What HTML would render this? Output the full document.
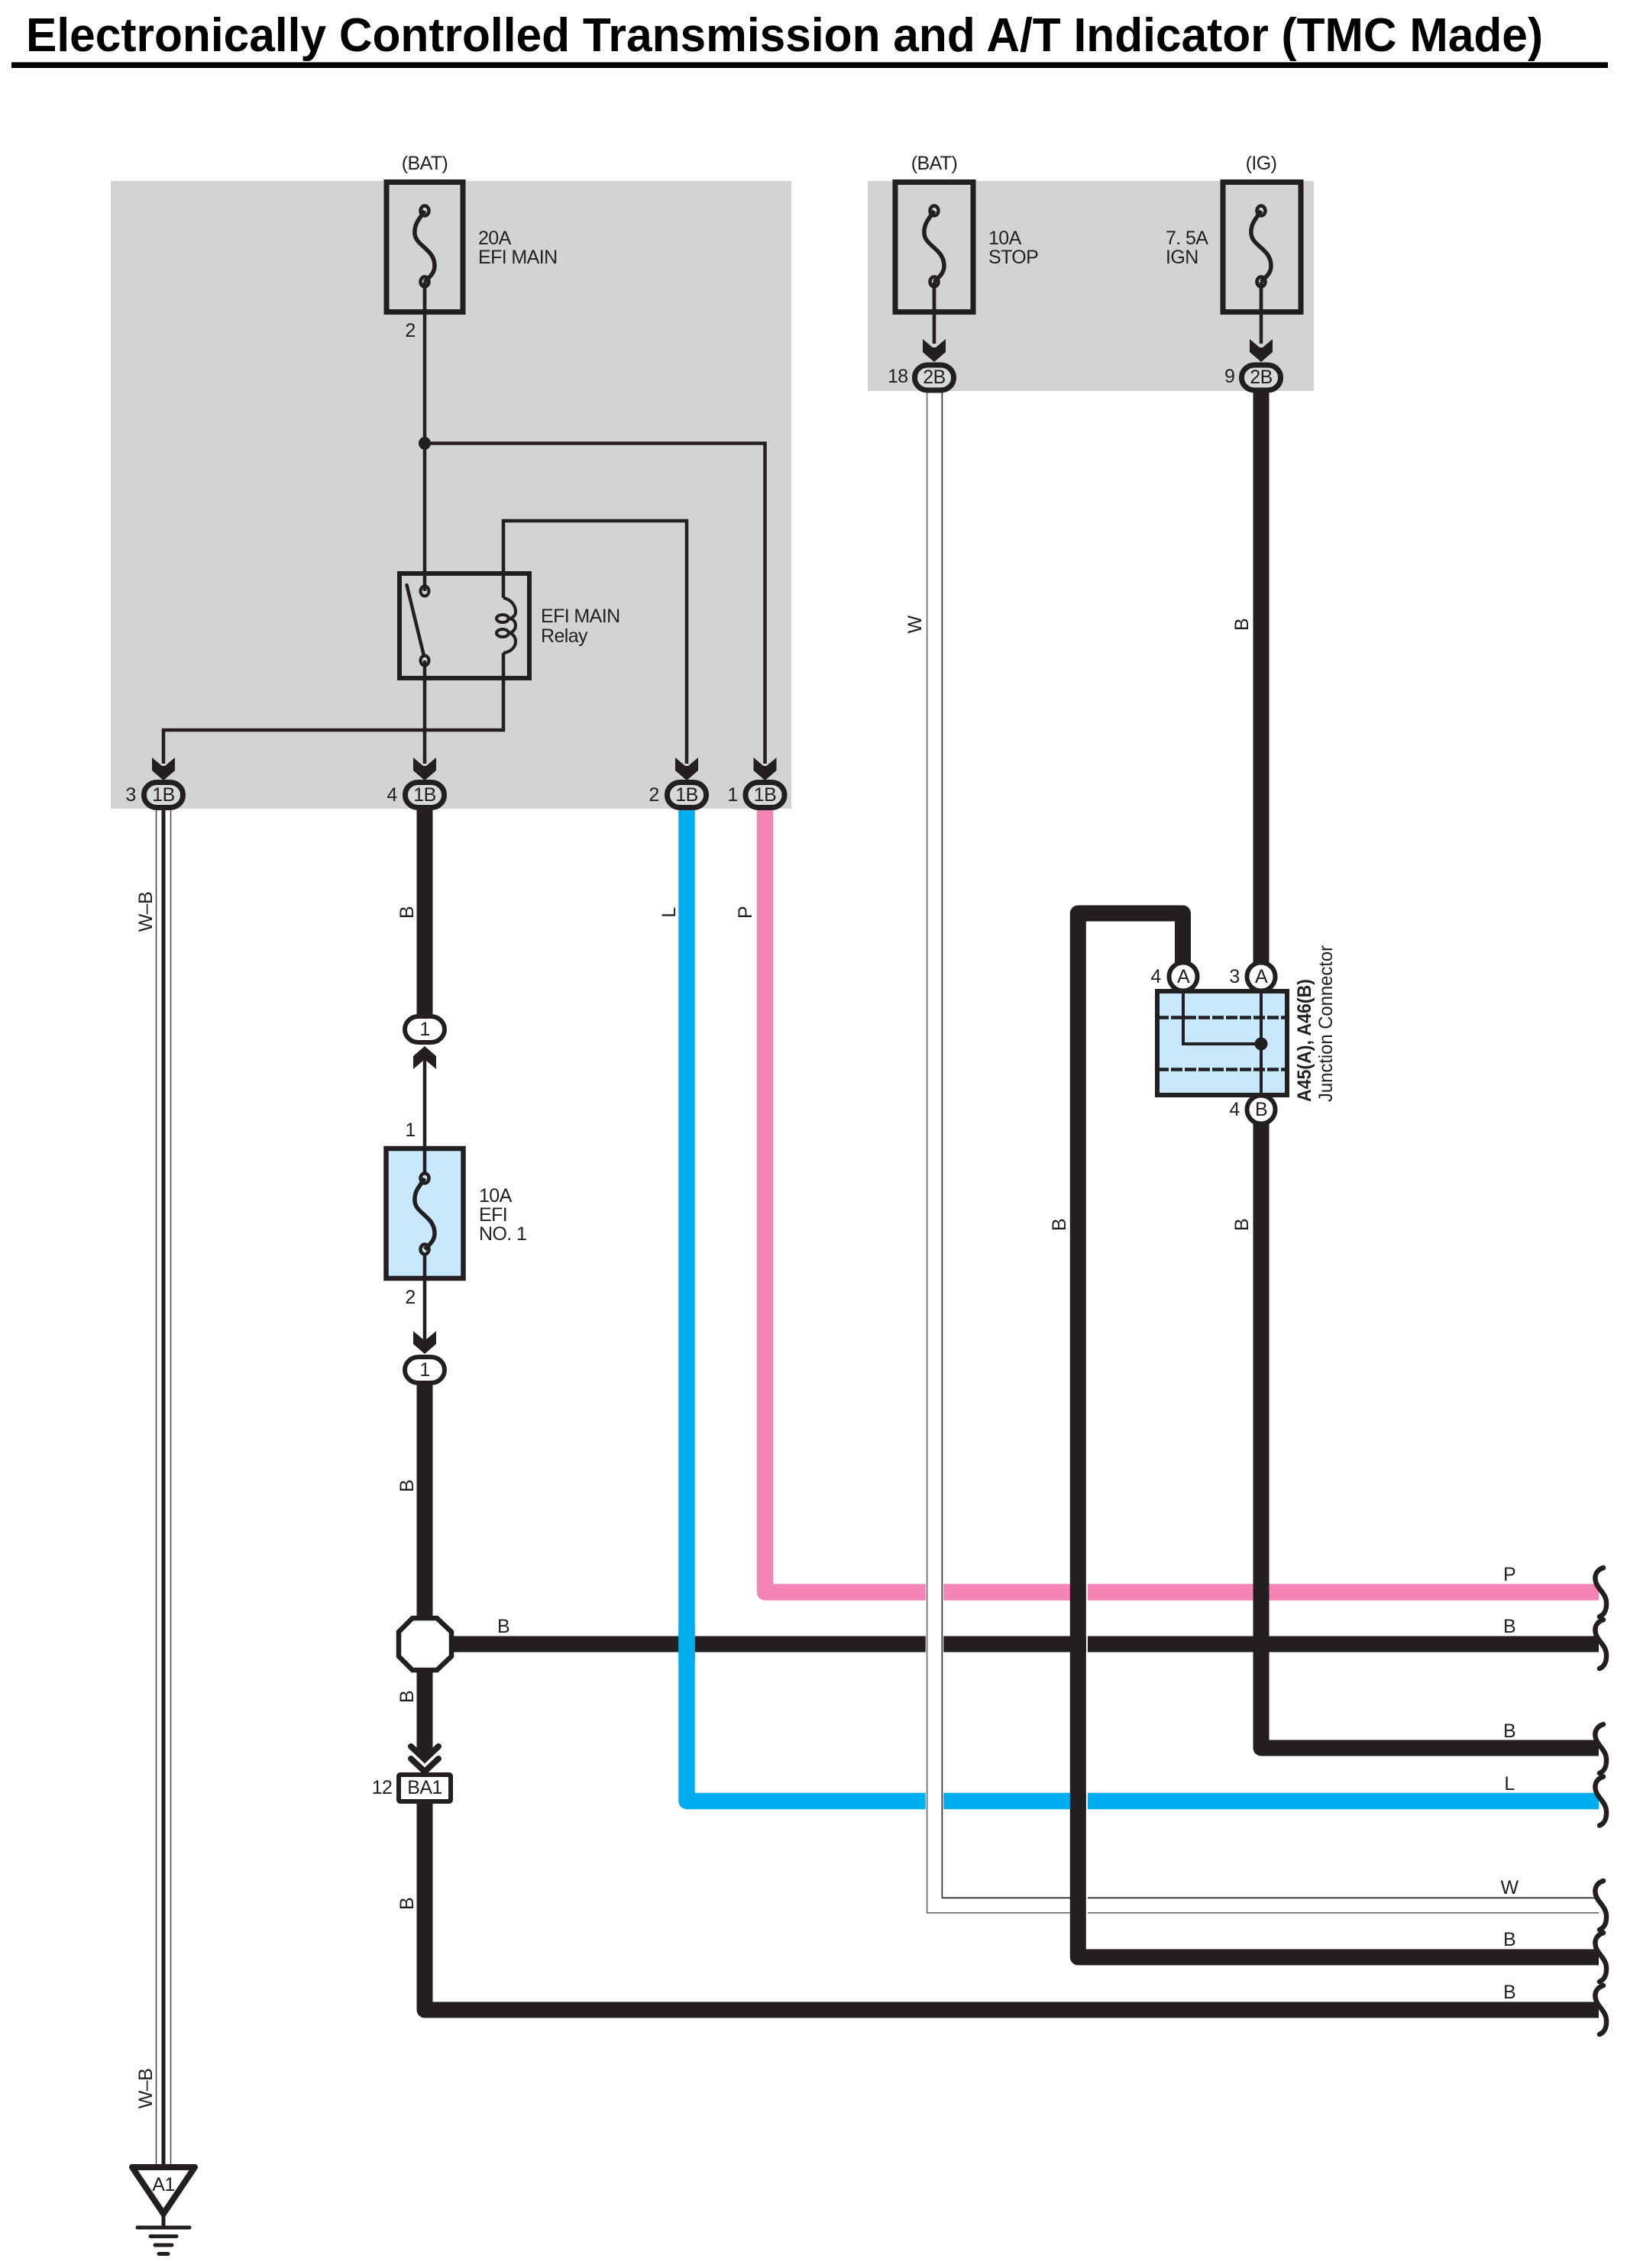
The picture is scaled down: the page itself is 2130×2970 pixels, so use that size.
<!DOCTYPE html>
<html>
<head>
<meta charset="utf-8">
<style>
html,body{margin:0;padding:0;background:#fff;}
svg{display:block;}
text{font-family:"Liberation Sans",sans-serif;font-size:25px;letter-spacing:-0.6px;fill:#231f20;}
.m{text-anchor:middle;}
</style>
</head>
<body>
<svg xmlns="http://www.w3.org/2000/svg" width="2130" height="2970" viewBox="0 0 2130 2970">
<defs>
  <polygon id="arr" points="-15,-30 -2,-19 2,-19 15,-30 15,-13 0,0 -15,-13" fill="#231f20"/>
  <g id="fuse" fill="none" stroke="#231f20">
    <path d="M0,0 C-6,10 -14,16 -13,30 C-12,46 13,50 13,72 C13,82 6,87 0,93" stroke-width="5.5"/>
    <ellipse cx="0" cy="0" rx="5.5" ry="6.5" stroke-width="4.5"/>
    <ellipse cx="0" cy="93" rx="5.5" ry="6.5" stroke-width="4.5"/>
  </g>
  <path id="wave" d="M2099,-32 C2090,-29 2087,-22 2089,-14 C2091,-4 2104,2 2103,16 C2103,25 2099,30 2094,32" fill="none" stroke="#231f20" stroke-width="6.5" stroke-linecap="round"/>
</defs>

<rect width="2130" height="2970" fill="#fff"/>

<!-- Title -->
<text x="34" y="67" textLength="1986" lengthAdjust="spacingAndGlyphs" style="font-size:62px;font-weight:bold;letter-spacing:0;fill:#000">Electronically Controlled Transmission and A/T Indicator (TMC Made)</text>
<rect x="15" y="81.5" width="2090" height="7.5" fill="#000"/>

<!-- Gray zones -->
<rect x="145" y="237" width="891" height="822" fill="#d1d3d4"/>
<rect x="1136" y="237" width="584" height="275" fill="#d1d3d4"/>

<!-- Thick harness wires -->
<g fill="none" stroke-linejoin="round">
  <path d="M556,1060V1330" stroke="#231f20" stroke-width="21"/>
  <path d="M556,1812V2116" stroke="#231f20" stroke-width="21"/>
  <path d="M556,2190V2300" stroke="#231f20" stroke-width="21"/>
  <path d="M556,2360V2632H2093" stroke="#231f20" stroke-width="21"/>
  <path d="M594,2153H2093" stroke="#231f20" stroke-width="21"/>
  <path d="M1001.5,1060V2085H2093" stroke="#f384b5" stroke-width="21.5"/>
  <path d="M899,1060V2358.5H2093" stroke="#00aeef" stroke-width="21.5"/>
  <!-- W wire -->
  <path d="M1223.5,512V2495H2093" stroke="#fff" stroke-width="23.5" stroke-linejoin="miter"/>
  <path d="M1223.5,512V2495H2093" stroke="#707070" stroke-width="21.5" stroke-linejoin="miter"/>
  <path d="M1223.5,512V2495H2093" stroke="#fff" stroke-width="18" stroke-linejoin="miter"/>
  <path d="M1233.3,512V2485.5H2093" stroke="#333" stroke-width="1.5" stroke-linejoin="miter"/>
  <!-- Black crossing with white halo -->
  <path d="M1423,2060V2380" stroke="#fff" stroke-width="2"/>
  <path d="M1423,2480V2510" stroke="#fff" stroke-width="2"/>
  <path d="M1548.5,1270V1196H1411.3V2563H2093" stroke="#231f20" stroke-width="21"/>
  <path d="M1651,505V1270" stroke="#231f20" stroke-width="21"/>
  <path d="M1651,1460V2289H2093" stroke="#231f20" stroke-width="21"/>
</g>
<!-- Blue over black crossing -->
<path d="M899,2130V2175" stroke="#00aeef" stroke-width="21.5"/>

<!-- W-B wire -->
<rect x="204" y="1060" width="20" height="1775" fill="#fff"/>
<path d="M204.5,1060V2835M223.5,1060V2835" stroke="#444" stroke-width="1.5"/>
<path d="M214,1060V2835" stroke="#231f20" stroke-width="5"/>

<!-- Wire ends -->
<use href="#wave" y="2085"/>
<use href="#wave" y="2153"/>
<use href="#wave" y="2290"/>
<use href="#wave" y="2358.5"/>
<use href="#wave" y="2495"/>
<use href="#wave" y="2563"/>
<use href="#wave" y="2632"/>

<!-- Thin internal wires -->
<g fill="none" stroke="#231f20" stroke-width="4.5">
  <path d="M556,369V774"/>
  <path d="M556,580.5H1001.5V1000"/>
  <path d="M899,1000V682H659V783"/>
  <path d="M659,855V956H214V1000"/>
  <path d="M556,865V1000"/>
  <path d="M1223,369V450"/>
  <path d="M1651,369V450"/>
  <path d="M556,1375V1501"/>
  <path d="M556,1677V1770"/>
</g>
<ellipse cx="556" cy="580.5" rx="8" ry="8.5" fill="#231f20"/>

<!-- Fuses top -->
<rect x="506" y="238.5" width="100" height="170" fill="none" stroke="#231f20" stroke-width="7"/>
<rect x="1172" y="238.5" width="102" height="170" fill="none" stroke="#231f20" stroke-width="7"/>
<rect x="1601" y="238.5" width="102" height="170" fill="none" stroke="#231f20" stroke-width="7"/>
<use href="#fuse" x="556" y="276"/>
<use href="#fuse" x="1223" y="276"/>
<use href="#fuse" x="1651" y="276"/>
<path d="M556,375V412M1223,375V412M1651,375V412" stroke="#231f20" stroke-width="4.5"/>

<!-- Relay -->
<rect x="523" y="751" width="170" height="137" fill="none" stroke="#231f20" stroke-width="6"/>
<g fill="none" stroke="#231f20" stroke-width="4">
  <ellipse cx="556" cy="774" rx="5.5" ry="6.5"/>
  <ellipse cx="556" cy="865" rx="5.5" ry="6.5"/>
  <path d="M532.5,766L555,859" stroke-width="4.5" stroke-linecap="round"/>
  <path d="M659,783C670,785 675,794 675,801C675,806 672,808 668,810C672,811 675,814 675,819C675,824 672,827 668,829C672,831 675,834 675,840C675,848 668,854 659,855"/>
  <ellipse cx="658" cy="810" rx="8" ry="5"/>
  <ellipse cx="658" cy="829" rx="8" ry="5"/>
</g>

<!-- 1B arrows + connectors -->
<use href="#arr" x="214" y="1022"/>
<use href="#arr" x="556" y="1022"/>
<use href="#arr" x="899" y="1022"/>
<use href="#arr" x="1001.5" y="1022"/>
<g fill="#d8d9db" stroke="#231f20" stroke-width="7">
  <rect x="188.5" y="1024.5" width="51" height="33" rx="17" ry="16"/>
  <rect x="530.5" y="1024.5" width="51" height="33" rx="17" ry="16"/>
  <rect x="873.5" y="1024.5" width="51" height="33" rx="17" ry="16"/>
  <rect x="976" y="1024.5" width="51" height="33" rx="17" ry="16"/>
</g>
<!-- 2B -->
<use href="#arr" x="1223" y="474"/>
<use href="#arr" x="1651" y="474"/>
<g fill="#d8d9db" stroke="#231f20" stroke-width="7">
  <rect x="1197.5" y="478" width="51" height="33" rx="17" ry="16"/>
  <rect x="1625.5" y="478" width="51" height="33" rx="17" ry="16"/>
</g>

<!-- EFI NO.1 fuse -->
<rect x="505.5" y="1504" width="101" height="170" fill="#c7e9fb" stroke="#231f20" stroke-width="6.5"/>
<use href="#fuse" x="556" y="1543"/>
<path d="M556,1504V1537M556,1642V1677" stroke="#231f20" stroke-width="4.5"/>
<g fill="#fff" stroke="#231f20" stroke-width="6">
  <rect x="530" y="1331" width="52" height="34" rx="18" ry="17"/>
  <rect x="530" y="1777" width="52" height="34" rx="18" ry="17"/>
</g>
<use href="#arr" transform="translate(556,1370) rotate(180)"/>
<use href="#arr" x="556" y="1773"/>

<!-- Octagon -->
<polygon points="540,2119 572,2119 591,2137 591,2169 572,2187 540,2187 522,2169 522,2137" fill="#fff" stroke="#231f20" stroke-width="6.5"/>

<!-- BA1 -->
<path d="M538,2287L556,2304L574,2287" fill="none" stroke="#231f20" stroke-width="8" stroke-linecap="round"/>
<path d="M538,2303L556,2320L574,2303" fill="none" stroke="#231f20" stroke-width="8" stroke-linecap="round"/>
<rect x="522" y="2324" width="68" height="35" rx="2" fill="#fff" stroke="#231f20" stroke-width="6"/>

<!-- Junction connector -->
<rect x="1515" y="1298" width="170" height="136" fill="#c7e9fb" stroke="#231f20" stroke-width="6"/>
<path d="M1515,1332.5H1685M1515,1400.5H1685" stroke="#231f20" stroke-width="4.5" stroke-dasharray="15 3"/>
<path d="M1549,1295V1367H1651M1651,1295V1437" fill="none" stroke="#231f20" stroke-width="4"/>
<circle cx="1651" cy="1367" r="8.5" fill="#231f20"/>
<circle cx="1549" cy="1279" r="18.5" fill="#fff" stroke="#231f20" stroke-width="6"/>
<circle cx="1651" cy="1279" r="18.5" fill="#fff" stroke="#231f20" stroke-width="6"/>
<circle cx="1651" cy="1453" r="18.5" fill="#fff" stroke="#231f20" stroke-width="6"/>

<!-- Ground -->
<polygon points="173,2838 255,2838 214,2899" fill="#fff" stroke="#231f20" stroke-width="8" stroke-linejoin="round"/>
<g stroke="#231f20" stroke-linecap="round" fill="none">
  <path d="M214,2900V2917" stroke-width="5"/>
  <path d="M180,2917H248" stroke-width="5"/>
  <path d="M197,2928.5H231" stroke-width="5"/>
  <path d="M203,2940H225" stroke-width="5"/>
  <path d="M208,2951.5H220" stroke-width="5"/>
</g>

<!-- Text labels -->
<text class="m" x="556" y="222">(BAT)</text>
<text class="m" x="1223" y="222">(BAT)</text>
<text class="m" x="1651" y="222">(IG)</text>
<text x="626" y="320">20A</text>
<text x="626" y="345">EFI MAIN</text>
<text x="1294" y="320">10A</text>
<text x="1294" y="345">STOP</text>
<text x="1526" y="320">7. 5A</text>
<text x="1526" y="345">IGN</text>
<text class="m" x="537" y="441">2</text>
<text x="708" y="815">EFI MAIN</text>
<text x="708" y="841">Relay</text>

<text class="m" x="171" y="1049">3</text>
<text class="m" x="513" y="1049">4</text>
<text class="m" x="856" y="1049">2</text>
<text class="m" x="959" y="1049">1</text>
<text class="m" x="214" y="1049">1B</text>
<text class="m" x="556" y="1049">1B</text>
<text class="m" x="899" y="1049">1B</text>
<text class="m" x="1001.5" y="1049">1B</text>

<text x="1162" y="501">18</text>
<text x="1603" y="501">9</text>
<text class="m" x="1223" y="502">2B</text>
<text class="m" x="1651" y="502">2B</text>

<text class="m" x="556" y="1356">1</text>
<text class="m" x="556" y="1802">1</text>
<text class="m" x="537" y="1488">1</text>
<text class="m" x="537" y="1707">2</text>
<text x="627" y="1574">10A</text>
<text x="627" y="1599">EFI</text>
<text x="627" y="1624">NO. 1</text>

<text class="m" x="556" y="2349">BA1</text>
<text class="m" x="500" y="2349">12</text>
<text class="m" x="659" y="2138">B</text>

<text class="m" x="1513" y="1287">4</text>
<text class="m" x="1616" y="1287">3</text>
<text class="m" x="1616" y="1461">4</text>
<text class="m" x="1549" y="1287">A</text>
<text class="m" x="1651" y="1287">A</text>
<text class="m" x="1651" y="1461">B</text>
<text class="m" x="214" y="2869">A1</text>

<text class="m" x="1976" y="2070">P</text>
<text class="m" x="1976" y="2138">B</text>
<text class="m" x="1976" y="2275">B</text>
<text class="m" x="1976" y="2344">L</text>
<text class="m" x="1976" y="2480">W</text>
<text class="m" x="1976" y="2548">B</text>
<text class="m" x="1976" y="2617">B</text>

<!-- Rotated wire labels -->
<text class="m" transform="translate(199,1194) rotate(-90)">W–B</text>
<text class="m" transform="translate(199,2735) rotate(-90)">W–B</text>
<text class="m" transform="translate(541,1195) rotate(-90)">B</text>
<text class="m" transform="translate(541,1946) rotate(-90)">B</text>
<text class="m" transform="translate(541,2222) rotate(-90)">B</text>
<text class="m" transform="translate(541,2493) rotate(-90)">B</text>
<text class="m" transform="translate(884,1195) rotate(-90)">L</text>
<text class="m" transform="translate(984,1195) rotate(-90)">P</text>
<text class="m" transform="translate(1206,818) rotate(-90)">W</text>
<text class="m" transform="translate(1634,818) rotate(-90)">B</text>
<text class="m" transform="translate(1395,1604) rotate(-90)">B</text>
<text class="m" transform="translate(1634,1604) rotate(-90)">B</text>

<text transform="translate(1716,1443) rotate(-90)" textLength="161" lengthAdjust="spacingAndGlyphs" style="font-weight:bold;font-size:25px;letter-spacing:0">A45(A), A46(B)</text>
<text transform="translate(1744,1443) rotate(-90)" textLength="205" lengthAdjust="spacingAndGlyphs" style="letter-spacing:0">Junction Connector</text>
</svg>
</body>
</html>
